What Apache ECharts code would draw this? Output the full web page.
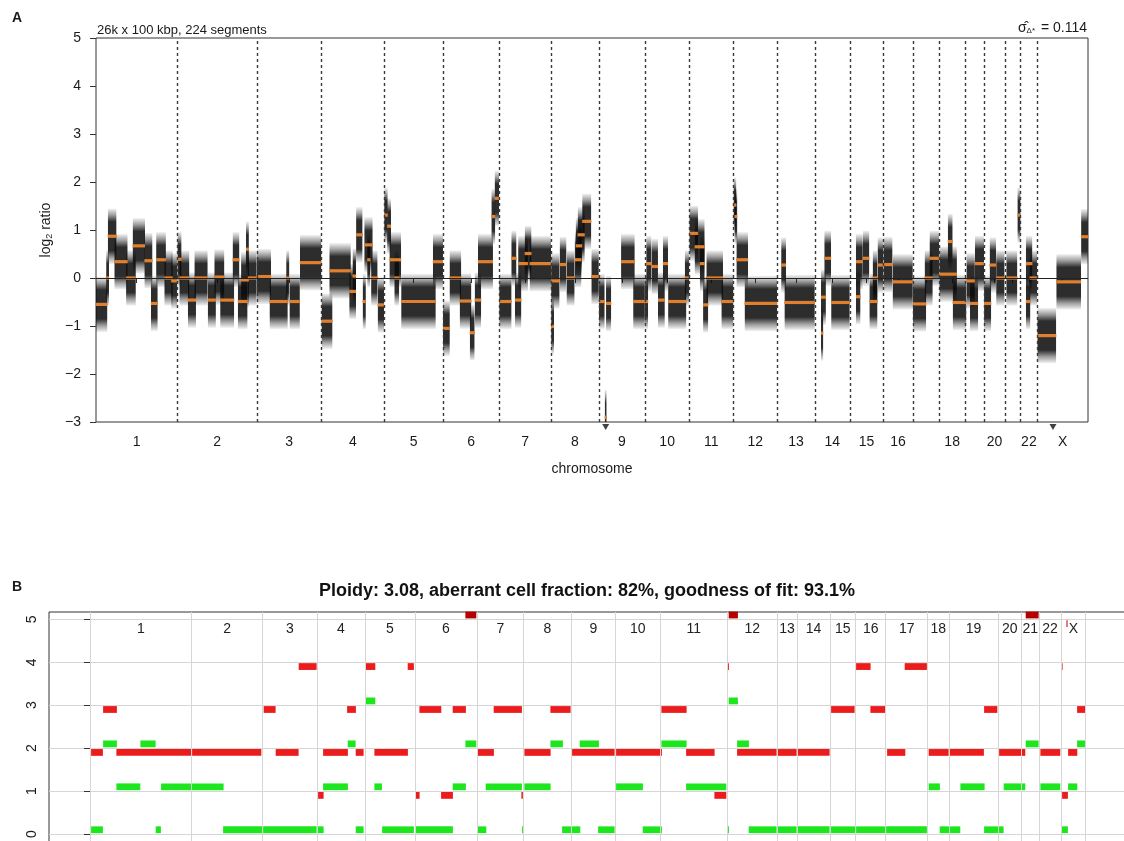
<!DOCTYPE html>
<html><head><meta charset="utf-8">
<script src="https://cdn.jsdelivr.net/npm/echarts@6/dist/echarts.min.js"></script>
<style>html,body{margin:0;padding:0;background:#fff}#c{width:1124px;height:841px}</style>
</head><body><div id="c"></div>
<script>
// ---------- DATA ----------
const chromNames = ['1','2','3','4','5','6','7','8','9','10','11','12','13','14','15','16','17','18','19','20','21','22','X'];
const chromLengthsMb = [249.25,243.2,198.0,191.15,180.9,171.1,159.1,146.4,141.2,135.5,135.0,133.85,115.2,107.35,102.5,90.35,81.2,78.1,59.1,63.0,48.1,51.3,155.3];
const hiddenAxisLabels = ['17','19','21'];
// panel A segments: [genome start Mb, genome end Mb, segment mean log2 ratio]
const segments = [
 [0,35,-0.55],[31,40,0.0],[36,63,0.87],[56,97,0.34],[92,122,0.0],[112,150,0.67],[148,173,0.36],[168,189,-0.53],[184,214,0.38],[209,235,0.0],[230,249,-0.06],
 [249,262,0.39],[255,286,0.0],[281,306,-0.46],[301,342,0.0],[342,367,-0.46],[362,393,0.02],[380,423,-0.46],[418,439,0.38],[434,464,-0.49],[444,468,-0.04],[459,468,0.6],[465,492,0.0],
 [492,536,0.03],[531,587,-0.49],[582,592,0.0],[592,624,-0.49],[624,690,0.32],
 [690,724,-0.9],[714,780,0.15],[775,796,-0.28],[785,796,0.04],[796,816,0.9],[816,826,-0.49],[821,847,0.69],[830,840,0.38],[842,862,0.0],[862,882,-0.56],
 [882,893,1.31],[891,903,1.08],[898,934,0.38],[913,928,0.0],[934,1040,-0.49],[1031,1062,0.34],
 [1062,1083,-1.05],[1082,1118,0.0],[1113,1149,-0.48],[1144,1159,-1.14],[1159,1179,-0.46],[1169,1215,0.34],[1210,1222,1.28],[1220,1234,1.66],
 [1234,1272,-0.49],[1271,1287,0.41],[1282,1302,-0.46],[1292,1322,0.3],[1312,1333,0.51],[1327,1393,0.3],
 [1393,1402,-1.01],[1393,1419,-0.06],[1419,1440,0.28],[1440,1465,0.0],[1465,1486,0.38],[1468,1488,0.67],[1474,1496,0.9],[1488,1516,1.18],[1516,1539,0.03],
 [1539,1557,-0.49],[1557,1563,-2.9],[1561,1577,-0.53],[1607,1649,0.34],[1644,1680,-0.49],
 [1680,1690,-0.49],[1684,1700,0.3],[1700,1720,0.24],[1720,1741,-0.46],[1735,1751,0.3],[1751,1807,-0.49],[1802,1816,0.0],
 [1816,1843,0.93],[1832,1863,0.65],[1848,1863,0.3],[1858,1874,-0.56],[1868,1919,0.0],[1914,1951,-0.49],
 [1951,1960,1.52],[1954,1963,1.28],[1960,1996,0.38],[1985,2085,-0.53],
 [2097,2112,0.27],[2107,2200,-0.51],
 [2219,2226,-1.15],[2219,2234,-0.4],[2229,2250,0.41],[2250,2307,-0.51],
 [2326,2347,0.34],[2326,2340,-0.39],[2347,2367,0.41],[2367,2392,-0.49],[2377,2392,0.0],[2392,2410,0.27],
 [2410,2438,0.28],[2438,2500,-0.08],
 [2500,2541,-0.54],[2536,2561,0.0],[2551,2581,0.41],
 [2581,2635,0.08],[2607,2622,0.76],[2622,2664,-0.51],
 [2664,2690,-0.06],[2675,2700,-0.53],[2690,2718,0.3],
 [2718,2740,-0.53],[2735,2755,0.27],[2755,2781,0.0],
 [2786,2820,0.0],[2820,2830,1.31],
 [2846,2866,0.3],[2846,2860,-0.49],[2857,2881,0.0],
 [2881,2939,-1.2],[2939,3015,-0.08],[3015,3036,0.86]
];
const offScaleMarksMb = [1560, 2929];
// panel B: chromosome widths (plot units) and copy-number segments [start, end, copies]
const bChromWidths = [101.7,71,54.3,48,50,62,46.7,47.3,44.7,44.3,67.7,49.3,20,33,25.7,30,42,21.3,49,23.7,17.3,22,24.7];
const majorCN = [
 [0.7,13.3,2],[12.7,27.3,3],[26,101.7,2],[101.7,171.7,2],
 [173.3,186,3],[185.3,209,2],[208.3,227,4],
 [227.7,234,1],[232.7,258.3,2],[256.7,266.3,3],[265.3,274,2],
 [275,285.7,4],[284,318.3,2],[317.3,324.3,4],
 [325,330,1],[329,351.7,3],[350.7,363.3,1],[362.3,376.3,3],[375,386.7,6],
 [387.3,404.3,2],[403.3,432.3,3],[431,433.3,1],
 [434,461,2],[460,481,3],
 [481.7,525,2],[525.7,572.3,2],
 [571,597,3],[595.7,625,2],[624,636.7,1],
 [637.3,639.3,4],[638.3,648.3,6],[646.7,687,2],[687,707,2],[707,740,2],
 [740.7,765,3],[765.7,781,4],[780,795.7,3],
 [796.7,815.7,2],[814.3,837.3,4],
 [838.3,859,2],[859,894.3,2],[893.7,907.7,3],
 [908.7,935.7,2],[935.3,949,6],[950,970.7,2],
 [971,972,4],[976,977.5,5],[971.7,978.3,1],[977.7,987.7,2],[986.7,995.7,3]
];
const minorCN = [
 [0.7,13.3,0],[12.7,27.3,2],[26,50.7,1],[50,66,2],[65.3,71.3,0],[70.7,134,1],
 [132.7,172.7,0],[172.7,227,0],[227,234,0],
 [232.7,258.3,1],[257.3,266,2],[265.3,274,0],
 [275,285.7,3],[284,292.3,1],[291.7,324.3,0],
 [325,363.3,0],[362.3,376.3,1],[375,386.7,2],
 [387.3,396.7,0],[395.3,432.3,1],[431.7,433.3,0],
 [434,461,1],[460,473.3,2],[471.7,490.7,0],
 [489.3,509.3,2],[507.7,525,0],
 [525.7,553.3,1],[552.3,572.3,0],
 [571,597,2],[595.7,636.7,1],
 [637.3,639.3,0],[638.3,648.3,3],[646.7,659.3,2],
 [658.3,687,0],[687,707,0],[707,740,0],[740,765.7,0],[765.7,795.7,0],[795.7,837.3,0],
 [838.3,850.3,1],[849.3,870.7,0],
 [870,895,1],[893.7,914,0],
 [913.3,935.7,1],[935.3,949,2],[950,970.7,1],
 [971,978.3,0],[977.7,987.7,1],[986.7,995.7,2]
];
const titleB = 'Ploidy: 3.08, aberrant cell fraction: 82%, goodness of fit: 93.1%';

// ---------- DERIVED ----------
const chromStarts = []; let acc = 0;
chromLengthsMb.forEach(l => { chromStarts.push(acc); acc += l; });
const genomeEnd = acc;
const chromBounds = chromStarts.slice(1);
const chromCenters = chromStarts.map((s, i) => s + chromLengthsMb[i] / 2);
const bStarts = []; let bAcc = 0;
bChromWidths.forEach(w => { bStarts.push(bAcc); bAcc += w; });
const bBounds = bStarts.concat([bAcc]);
const bCenters = bStarts.map((s, i) => s + bChromWidths[i] / 2);

const FONT = 'Liberation Sans, Arial, Helvetica, sans-serif';
const TXT = '#1a1a1a';
const ORANGE = '#e07f2e';

const chart = echarts.init(document.getElementById('c'), null, {renderer: 'canvas'});
const clip = echarts.graphic.clipRectByRect;

function rectOf(api, x0, y0, x1, y1, minW) {
  const a = api.coord([x0, y0]), b = api.coord([x1, y1]);
  let x = Math.min(a[0], b[0]), w = Math.abs(b[0] - a[0]);
  if (w < minW) { x -= (minW - w) / 2; w = minW; }
  return {x: x, y: Math.min(a[1], b[1]), width: w, height: Math.abs(b[1] - a[1])};
}

const cloudFill = new echarts.graphic.LinearGradient(0, 0, 0, 1, [
  {offset: 0, color: 'rgba(10,10,10,0.04)'},
  {offset: 0.12, color: 'rgba(10,10,10,0.4)'},
  {offset: 0.24, color: 'rgba(10,10,10,0.86)'},
  {offset: 0.76, color: 'rgba(10,10,10,0.86)'},
  {offset: 0.88, color: 'rgba(10,10,10,0.4)'},
  {offset: 1, color: 'rgba(10,10,10,0.04)'}
]);

function renderCloud(params, api) {
  const s = api.value(0), e = api.value(1), m = api.value(2);
  const cs = params.coordSys;
  const r = rectOf(api, s, m + 0.58, e, m - 0.58, 2);
  const c = clip(r, cs);
  if (!c) return null;
  return {type: 'rect', shape: r, clipPath: {type: 'rect', shape: c}, style: {fill: cloudFill}};
}
function renderSeg(params, api) {
  const s = api.value(0), e = api.value(1), m = api.value(2);
  const a = api.coord([s, m]), b = api.coord([e, m]);
  const r = clip({x: a[0], y: a[1] - 1.6, width: Math.max(b[0] - a[0], 2), height: 3.2}, params.coordSys);
  return r ? {type: 'rect', shape: r, style: {fill: ORANGE}} : null;
}
function makeCNRender(color, darkColor, off) {
  return function (params, api) {
    const s = api.value(0), e = api.value(1), lv = api.value(2);
    const capped = lv > 5;
    const yv = capped ? 5.1 : lv + off;
    const a = api.coord([s, yv]), b = api.coord([e, yv]);
    const w = Math.max(b[0] - a[0] - 0.8, 1.2);
    return {type: 'rect', shape: {x: a[0] + 0.4, y: a[1] - 3.4, width: w, height: 6.8},
      style: {fill: capped ? darkColor : color}};
  };
}

const option = {
  animation: false,
  backgroundColor: '#fff',
  textStyle: {fontFamily: FONT},
  grid: [
    {left: 96, top: 38, width: 992, height: 384, outerBoundsMode: 'none', containLabel: false,
     show: true, borderColor: '#333', borderWidth: 1, backgroundColor: 'transparent'},
    {left: 49, top: 612, width: 1082, height: 265, outerBoundsMode: 'none', containLabel: false,
     show: true, borderColor: '#333', borderWidth: 1, backgroundColor: 'transparent'}
  ],
  xAxis: [
    {gridIndex: 0, type: 'value', min: 0, max: genomeEnd,
     name: 'chromosome', nameLocation: 'middle', nameGap: 40,
     nameTextStyle: {fontSize: 14, color: TXT, fontFamily: FONT},
     axisLine: {show: false}, splitLine: {show: false},
     axisTick: {show: true, customValues: chromCenters, length: 5, lineStyle: {color: '#333'}},
     axisLabel: {customValues: chromCenters, margin: 13, fontSize: 14, color: TXT, fontFamily: FONT,
       formatter: v => { const i = chromCenters.findIndex(c => Math.abs(c - v) < 0.01); const n = chromNames[i]; return (i < 0 || hiddenAxisLabels.includes(n)) ? '' : n; }}},
    {gridIndex: 1, type: 'value', min: -41, max: 1041,
     axisLine: {show: false}, axisTick: {show: false}, axisLabel: {show: false}, splitLine: {show: false}}
  ],
  yAxis: [
    {gridIndex: 0, type: 'value', min: -3, max: 5, interval: 1,
     name: 'log{sub|2} ratio', nameLocation: 'middle', nameGap: 38, nameRotate: 90,
     nameTextStyle: {fontSize: 14, color: TXT, fontFamily: FONT, rich: {sub: {fontSize: 9, verticalAlign: 'bottom', padding: [6, 0, 0, 0], fontFamily: FONT, color: TXT}}},
     axisLine: {show: false}, splitLine: {show: false},
     axisTick: {show: true, length: 6, lineStyle: {color: '#333'}},
     axisLabel: {margin: 15, fontSize: 14, color: TXT, fontFamily: FONT, formatter: v => v < 0 ? '\u2212' + Math.abs(v) : String(v)}},
    {gridIndex: 1, type: 'value', min: -1, max: 5.17, interval: 1,
     axisLine: {show: false},
     splitLine: {show: true, lineStyle: {color: '#d6d6d6', width: 1}},
     axisTick: {show: true, customValues: [0, 1, 2, 3, 4, 5], length: 6, lineStyle: {color: '#333'}},
     axisLabel: {rotate: 90, margin: 10, fontSize: 14, color: TXT, fontFamily: FONT,
       formatter: v => (Math.abs(v - Math.round(v)) < 1e-6 && v >= 0) ? String(Math.round(v)) : ''}}
  ],
  graphic: [
    {type: 'text', left: 12, top: 11, style: {text: 'A', font: 'bold 14px ' + FONT, fill: TXT}},
    {type: 'text', left: 12, top: 580, style: {text: 'B', font: 'bold 14px ' + FONT, fill: TXT}},
    {type: 'text', x: 97, y: 30, style: {text: '26k x 100 kbp, 224 segments', font: '13px ' + FONT, fill: TXT, verticalAlign: 'middle'}},
    {type: 'text', x: 1087, y: 28, style: {
      text: '{s|\u03C3\u0302}{d|\u0394*} = 0.114', align: 'right', verticalAlign: 'middle', fill: TXT,
      font: '14px ' + FONT,
      rich: {s: {fontSize: 14, fontFamily: FONT, fill: TXT}, d: {fontSize: 8, fontFamily: FONT, verticalAlign: 'bottom', padding: [6, 2, 0, 0], fill: TXT}}}},
    {type: 'text', x: 587, y: 591, style: {text: titleB, font: 'bold 18px ' + FONT, fill: '#111', align: 'center', verticalAlign: 'middle'}}
  ],
  series: [
    {type: 'line', xAxisIndex: 0, yAxisIndex: 0, data: [], silent: true, z: 1,
     markLine: {silent: true, symbol: 'none', label: {show: false}, animation: false,
       lineStyle: {color: '#3a3a3a', width: 1.4, type: [3, 3]},
       data: chromBounds.map(b => ({xAxis: b}))}},
    {type: 'custom', xAxisIndex: 0, yAxisIndex: 0, renderItem: renderCloud, data: segments, z: 2, silent: true},
    {type: 'line', xAxisIndex: 0, yAxisIndex: 0, data: [], silent: true, z: 3,
     markLine: {silent: true, symbol: 'none', label: {show: false}, animation: false,
       lineStyle: {color: '#222', width: 1.2, type: 'solid'}, data: [{yAxis: 0}]}},
    {type: 'custom', xAxisIndex: 0, yAxisIndex: 0, renderItem: renderSeg, data: segments, z: 4, silent: true},
    {type: 'scatter', xAxisIndex: 0, yAxisIndex: 0, data: offScaleMarksMb.map(x => [x, -3]), clip: false,
     symbol: 'triangle', symbolRotate: 180, symbolSize: [7, 6], symbolOffset: [0, 5], itemStyle: {color: '#111'}, z: 5, silent: true},
    {type: 'line', xAxisIndex: 1, yAxisIndex: 1, data: [], silent: true, z: 1,
     markLine: {silent: true, symbol: 'none', label: {show: false}, animation: false,
       lineStyle: {color: '#d6d6d6', width: 1, type: 'solid'},
       data: bBounds.map(b => ({xAxis: b}))}},
    {type: 'custom', xAxisIndex: 1, yAxisIndex: 1, renderItem: makeCNRender('#1ee61e', '#0a8a0a', 0.1), data: minorCN, z: 3, silent: true},
    {type: 'custom', xAxisIndex: 1, yAxisIndex: 1, renderItem: makeCNRender('#ec1c1c', '#b40000', -0.1), data: majorCN, z: 4, silent: true, clip: false},
    {type: 'custom', xAxisIndex: 1, yAxisIndex: 1, data: bCenters.map((c, i) => [c, 5, chromNames[i]]), z: 5, silent: true,
     renderItem: (params, api) => {
       const p = api.coord([api.value(0), api.value(1)]);
       return {type: 'text', x: p[0], y: p[1] + 10,
         style: {text: chromNames[params.dataIndex], font: '14px ' + FONT, fill: '#222', align: 'center', verticalAlign: 'middle'}};
     }}
  ]
};
chart.setOption(option);
</script></body></html>
